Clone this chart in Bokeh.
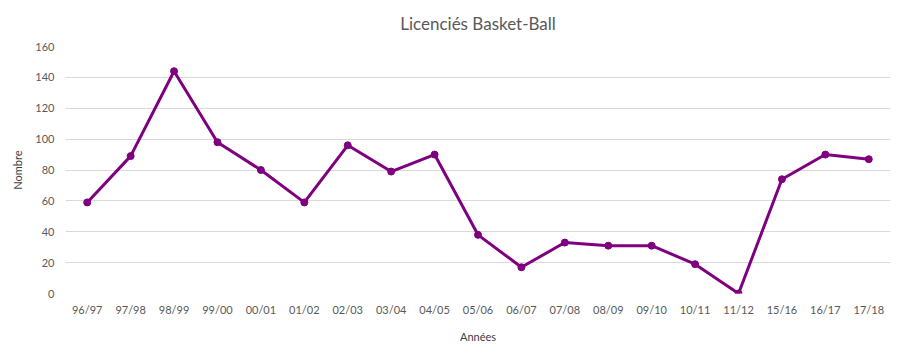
from bokeh.plotting import figure
from bokeh.models import ColumnDataSource
from bokeh.embed import file_html
from bokeh.resources import INLINE

seasons = ["96/97", "97/98", "98/99", "99/00", "00/01", "01/02", "02/03", "03/04",
           "04/05", "05/06", "06/07", "07/08", "08/09", "09/10", "10/11", "11/12",
           "15/16", "16/17", "17/18"]
licencies = [59, 89, 144, 98, 80, 59, 96, 79, 90, 38, 17, 33, 31, 31, 19, 0, 74, 90, 87]
title_text = "Licenciés Basket-Ball"

FONT = "Lato"
PURPLE = "#7F007F"
GREY = "#595959"

src = ColumnDataSource(dict(x=seasons, y=licencies))

p = figure(width=902, height=350, x_range=seasons, y_range=(0, 160),
           output_backend="svg", toolbar_location=None, title=title_text,
           min_border_left=65, min_border_right=12, min_border_top=46, min_border_bottom=57)

p.line("x", "y", source=src, line_color=PURPLE, line_width=3)
p.scatter("x", "y", source=src, size=7, fill_color=PURPLE, line_color=PURPLE)

p.title.align = "center"
p.title.vertical_align = "top"
p.title.text_font = FONT
p.title.text_font_size = "17px"
p.title.text_font_style = "normal"
p.title.text_color = GREY
p.title.standoff = 22

p.outline_line_color = None
p.xgrid.grid_line_color = None
p.ygrid.grid_line_color = "#d9d9d9"
p.ygrid.grid_line_width = 1
p.yaxis.ticker = list(range(0, 161, 20))

for ax in (p.xaxis[0], p.yaxis[0]):
    ax.axis_line_color = None
    ax.major_tick_line_color = None
    ax.minor_tick_line_color = None
    ax.major_tick_out = 0
    ax.major_tick_in = 0
    ax.minor_tick_out = 0
    ax.minor_tick_in = 0
    ax.major_label_text_font = FONT
    ax.major_label_text_font_size = "11px"
    ax.major_label_text_color = GREY
    ax.axis_label_text_font = FONT
    ax.axis_label_text_font_size = "11px"
    ax.axis_label_text_font_style = "normal"
    ax.axis_label_text_color = "#404040"

p.xaxis.axis_label = "Années"
p.yaxis.axis_label = "Nombre"
p.xaxis.major_label_standoff = 9
p.yaxis.major_label_standoff = 11
p.xaxis.axis_label_standoff = 11
p.yaxis.axis_label_standoff = 8

open("out.html", "w").write(file_html(p, INLINE))
